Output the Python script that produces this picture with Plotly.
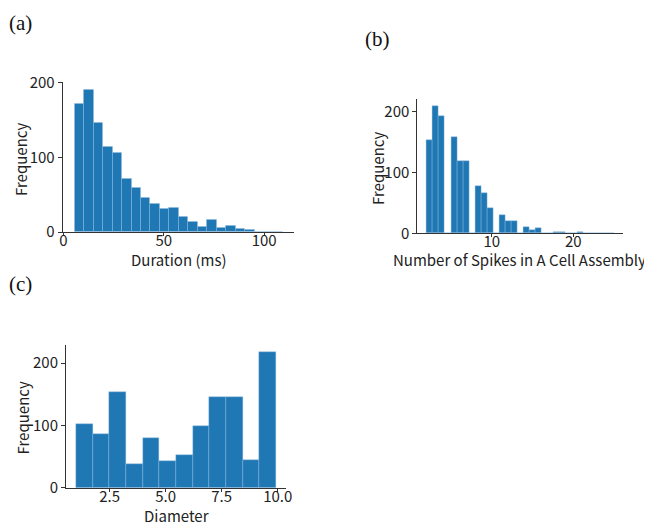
import plotly.graph_objects as go

# ---------------- data ----------------
# (a) Duration histogram
duration_bin_start = 5.48
duration_bin_width = 4.72
duration_counts = [172, 191, 146, 115, 106, 72, 60, 46, 38, 31, 32, 21,
                   14, 7, 17, 6, 9, 4, 3, 1, 1, 1]

# (b) Number of spikes histogram
spikes_bin_start = 2.0
spikes_bin_width = 23.0 / 31.0
spikes_counts = [154, 209, 193, 0, 158, 119, 118, 0, 78, 66, 42, 0,
                 30, 21, 20, 0, 10, 6, 8, 0, 1, 2, 2, 0,
                 1, 2, 1, 0, 0, 0, 1]

# (c) Diameter histogram
diam_bin_start = 1.0
diam_bin_width = 0.743
diam_counts = [102, 86, 153, 38, 79, 43, 52, 99, 146, 145, 44, 218]

panel_labels = ["(a)", "(b)", "(c)"]
x_titles = ["Duration (ms)", "Number of Spikes in A Cell Assembly", "Diameter"]
y_title = "Frequency"

BAR = "#1f77b4"
EDGE = "#8fbbe0"
AX = "#333333"
FONT = "Noto Sans CJK JP, Noto Sans, sans-serif"
# page body has an 8px margin: figure is drawn 8px inset
OFF = 8
W, H = 644, 518


def centers(start, width, counts):
    return [start + width * (i + 0.5) for i in range(len(counts))]


fig = go.Figure()
series = [
    (duration_bin_start, duration_bin_width, duration_counts, "x", "y"),
    (spikes_bin_start, spikes_bin_width, spikes_counts, "x2", "y2"),
    (diam_bin_start, diam_bin_width, diam_counts, "x3", "y3"),
]
for start, width, counts, xa, ya in series:
    fig.add_trace(go.Bar(
        x=centers(start, width, counts), y=counts, width=width,
        marker=dict(color=BAR, line=dict(color=EDGE, width=0.4)),
        xaxis=xa, yaxis=ya, showlegend=False, hoverinfo="skip"))


def fx(px):
    return (px - OFF) / W


def fy(py):
    return 1 - (py - OFF) / H


def dom_x(a, b):
    return [fx(a), fx(b)]


def dom_y(top, bottom):
    return [fy(bottom), fy(top)]


common = dict(showline=True, linecolor=AX, linewidth=1, ticks="outside",
              ticklen=4, tickcolor=AX, showgrid=False, zeroline=False,
              automargin=False,
              tickfont=dict(family=FONT, size=15, color="#222"))
xcommon = dict(common, ticklen=3, ticklabelstandoff=-8)

fig.update_layout(
    width=W, height=H, margin=dict(l=0, r=0, t=0, b=0, autoexpand=False),
    paper_bgcolor="white", plot_bgcolor="white", bargap=0, showlegend=False,
    xaxis=dict(domain=dom_x(62.7, 294.3), range=[-0.3, 115.0],
               tickvals=[0, 50, 100], anchor="y", **xcommon),
    yaxis=dict(domain=dom_y(81.7, 232), range=[0, 201.6],
               tickvals=[0, 100, 200], anchor="x", **common),
    xaxis2=dict(domain=dom_x(417.3, 623.3), range=[0.85, 26.15],
                tickvals=[10, 20], anchor="y2", **xcommon),
    yaxis2=dict(domain=dom_y(99, 233.3), range=[0, 220.5],
                tickvals=[0, 100, 200], anchor="x2", **common),
    xaxis3=dict(domain=dom_x(66, 286), range=[0.55, 10.37],
                tickvals=[2.5, 5.0, 7.5, 10.0], ticktext=["2.5", "5.0", "7.5", "10.0"],
                anchor="y3", **xcommon),
    yaxis3=dict(domain=dom_y(345, 487.7), range=[0, 229],
                tickvals=[0, 100, 200], anchor="x3", **common),
)

# axis titles (screen-pixel centres)
xt_pos = [(178.5, 259), (520, 259), (176, 515)]
yt_pos = [(20, 159), (377, 168), (21.5, 418)]
for txt, (x, y) in zip(x_titles, xt_pos):
    fig.add_annotation(text=txt, x=fx(x), y=fy(y), xref="paper", yref="paper",
                       showarrow=False, xanchor="center", yanchor="middle",
                       font=dict(family=FONT, size=15, color="#222"))
for (x, y) in yt_pos:
    fig.add_annotation(text=y_title, x=fx(x), y=fy(y), xref="paper", yref="paper",
                       showarrow=False, xanchor="center", yanchor="middle", textangle=-90,
                       font=dict(family=FONT, size=15, color="#222"))

label_pos = [(20, 23), (377, 39), (20, 284)]
for txt, (x, y) in zip(panel_labels, label_pos):
    fig.add_annotation(text=txt, x=fx(x), y=fy(y), xref="paper", yref="paper",
                       showarrow=False, xanchor="center", yanchor="middle",
                       font=dict(family="Liberation Serif, serif", size=21, color="#111"))

fig.write_html("out.html")
